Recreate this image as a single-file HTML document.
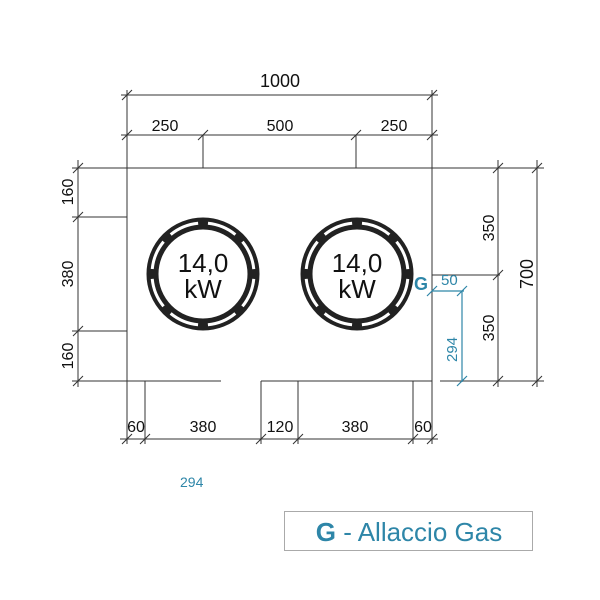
<!DOCTYPE html>
<html><head><style>body{margin:0;background:#fff}svg{display:block}</style></head><body>
<svg width="600" height="600" viewBox="0 0 600 600" xmlns="http://www.w3.org/2000/svg" font-family="Liberation Sans, sans-serif">
<g stroke="#333" stroke-width="1" fill="none">
<path d="M127 168H432V381M127 168V381H221M261 381H432"/>
<path d="M127 90V168M432 90V168M121 95H438M121 135H438M203 135V168M356 135V168"/>
<path d="M122 100l10-10M427 100l10-10M122 140l10-10M198 140l10-10M351 140l10-10M427 140l10-10"/>
<path d="M72 168H127M72 217H127M72 331H127M72 381H127M78 160V387"/>
<path d="M73 173l10-10M73 222l10-10M73 336l10-10M73 386l10-10"/>
<path d="M432 168H544M432 275H500M440 381H544M498 160V387M537 160V387"/>
<path d="M493 173l10-10M532 173l10-10M493 280l10-10M493 386l10-10M532 386l10-10"/>
<path d="M127 381V444M145 381V444M261 381V444M298 381V444M413 381V444M432 381V444M120 439H438"/>
<path d="M122 444l10-10M140 444l10-10M256 444l10-10M293 444l10-10M408 444l10-10M427 444l10-10"/>
</g>
<g stroke="#2e86a8" stroke-width="1.2" fill="none">
<path d="M432 291H464M462 291V382"/>
<path d="M427 296l10-10M457 296l10-10M457 386l10-10"/>
</g>
<g fill="none">
<circle cx="203" cy="274" r="50.5" stroke="#222" stroke-width="12"/>
<circle cx="357" cy="274" r="50.5" stroke="#222" stroke-width="12"/>
<circle cx="203" cy="274" r="51" stroke="#fff" stroke-width="3" stroke-dasharray="30 10" stroke-dashoffset="-5"/>
<circle cx="357" cy="274" r="51" stroke="#fff" stroke-width="3" stroke-dasharray="30 10" stroke-dashoffset="-5"/>
</g>
<g font-size="26" fill="#111" text-anchor="middle">
<text x="203" y="272">14,0</text><text x="203" y="298">kW</text>
<text x="357" y="272">14,0</text><text x="357" y="298">kW</text>
</g>
<g font-size="16" fill="#111" text-anchor="middle">
<text x="280" y="87" font-size="18">1000</text>
<text x="165" y="131">250</text><text x="280" y="131">500</text><text x="394" y="131">250</text>
<text x="136" y="432">60</text><text x="203" y="432">380</text><text x="280" y="432">120</text><text x="355" y="432">380</text><text x="423" y="432">60</text>
<text transform="translate(73 192) rotate(-90)">160</text>
<text transform="translate(73 274) rotate(-90)">380</text>
<text transform="translate(73 356) rotate(-90)">160</text>
<text transform="translate(494 228) rotate(-90)">350</text>
<text transform="translate(494 328) rotate(-90)">350</text>
<text transform="translate(533 274) rotate(-90)" font-size="18">700</text>
</g>
<g fill="#2e86a8" font-size="15">
<text x="414" y="290" font-weight="bold" font-size="18">G</text>
<text x="441" y="285">50</text>
<text transform="translate(457 362) rotate(-90)">294</text>
<text x="180" y="487" font-size="14">294</text>
</g>
<rect x="284.5" y="511.5" width="248" height="39" fill="none" stroke="#aaa"/>
<text x="409" y="541" text-anchor="middle" font-size="26" fill="#2e86a8"><tspan font-weight="bold">G</tspan> - Allaccio Gas</text>
</svg>
</body></html>
